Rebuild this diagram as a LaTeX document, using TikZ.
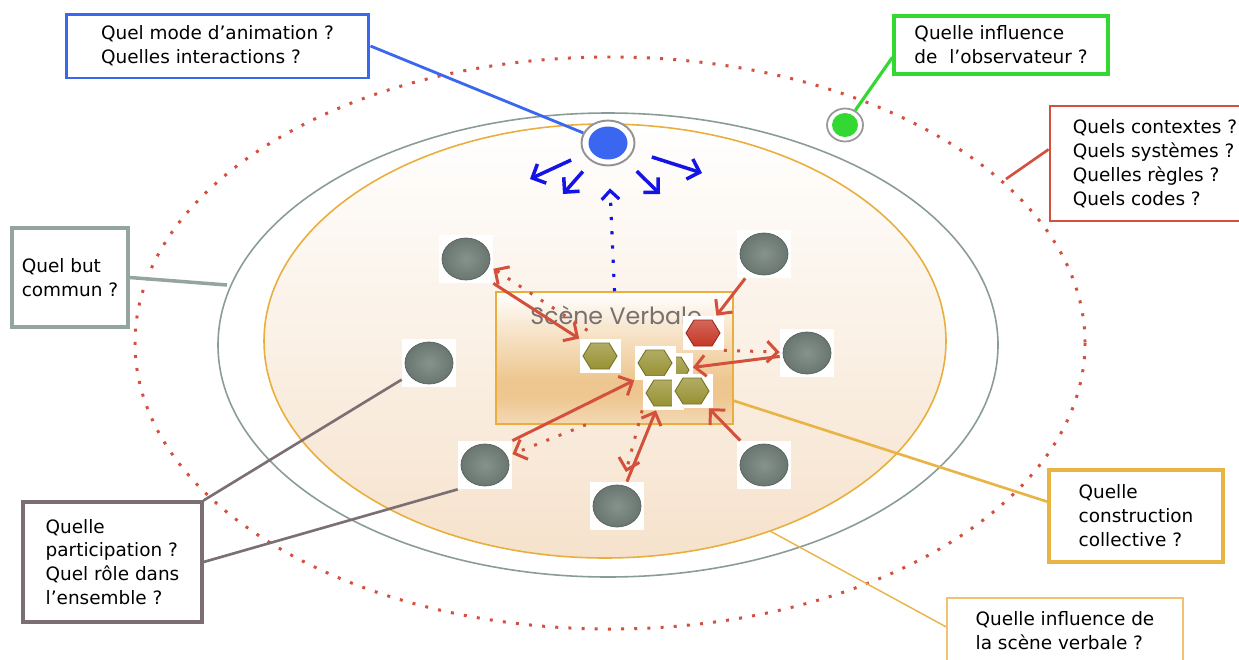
\documentclass[tikz,border=0pt]{standalone}
\usepackage{fontspec}
\setmainfont{DejaVu Sans}
\newfontfamily\scenefont{Poppins}
\usetikzlibrary{arrows.meta,calc,shapes.geometric}

\definecolor{dotred}{HTML}{D4503E}
\definecolor{arrred}{HTML}{D2503C}
\definecolor{ringgray}{HTML}{8A9C96}
\definecolor{ellorange}{HTML}{E9AE3C}
\definecolor{animblue}{HTML}{3A66F0}
\definecolor{arrblue}{HTML}{1414E6}
\definecolor{obsgreen}{HTML}{33D833}
\definecolor{butgray}{HTML}{94A59F}
\definecolor{rolegray}{HTML}{7B6F74}
\definecolor{constrorange}{HTML}{E9B446}
\definecolor{verborange}{HTML}{F0C272}
\definecolor{pcin}{HTML}{86928C}
\definecolor{pcout}{HTML}{66726C}
\definecolor{hexolive}{HTML}{948E2C}
\definecolor{hexred}{HTML}{C4301E}
\definecolor{scenegray}{HTML}{77706F}
\definecolor{scbot}{HTML}{F4D9B6}
\definecolor{scmid}{HTML}{EEC790}
\definecolor{scup}{HTML}{F8E7D0}

% fill of the verbal scene: white on top, strongest low down
\pgfdeclareverticalshading{scenefill}{100bp}{color(0bp)=(scbot); color(25bp)=(scbot);
  color(35bp)=(scmid); color(42bp)=(scmid); color(62bp)=(scup); color(75bp)=(white); color(100bp)=(white)}

\begin{document}
\begin{tikzpicture}[x=0.02cm,y=-0.02cm,
  qbox/.style={draw, fill=white, line width=1.6pt, align=left, inner sep=0pt,
    font=\fontsize{10.5}{13.6}\selectfont},
  person/.style={rectangle, fill=white, minimum width=1.08cm, minimum height=0.96cm, inner sep=0pt,
    path picture={\shadedraw[inner color=pcin, outer color=pcout, draw=pcout!85!black, line width=0.4pt]
      (path picture bounding box.center) ellipse [x radius=24, y radius=21];}},
  hexnode/.style={rectangle, fill=white, minimum width=0.82cm, minimum height=0.68cm, inner sep=0pt,
    path picture={\shadedraw[top color=#1!70!white, bottom color=#1, draw=#1!80!black, line width=0.5pt,
      shift={(path picture bounding box.center)}]
      (-17,0) -- (-9,-13) -- (9,-13) -- (17,0) -- (9,13) -- (-9,13) -- cycle;}},
  redarrow/.style={draw=arrred, line width=1.7pt, -{Straight Barb[length=6pt,width=12pt]}},
  reddots/.style={redarrow, dash pattern=on 1.7pt off 5.8pt},
  bluearrow/.style={draw=arrblue, line width=2pt, -{Straight Barb[length=6pt,width=12pt]}},
]

\useasboundingbox (0,0) rectangle (1239,659);
\clip (0,0) rectangle (1239,659);
\fill[white] (0,0) rectangle (1239,659);

% the three rings
\draw[dotred, line width=1.7pt, dash pattern=on 1.7pt off 5.8pt] (610,343) ellipse [x radius=475, y radius=286];
\draw[ringgray, line width=0.9pt] (608,345) ellipse [x radius=390, y radius=232];
\shadedraw[top color=white, bottom color={rgb,255:red,246;green,226;blue,204}, draw=ellorange, line width=0.9pt]
  (605,341) ellipse [x radius=341, y radius=217];

% verbal scene
\node[draw=ellorange, line width=0.9pt, shading=scenefill, minimum width=4.74cm, minimum height=2.64cm, inner sep=0pt]
  (scene) at (614.5,358) {};
\node[font=\scenefont\fontsize{13.5}{15}\selectfont, text=scenegray, inner sep=0pt] (scenelbl) at (616,315) {Scène Verbale};

% animator and observer
\node[ellipse, fill=white, draw=gray!85, line width=1.1pt, minimum width=1.06cm, minimum height=0.9cm, inner sep=0pt,
  path picture={\fill[animblue] (path picture bounding box.center) ellipse [x radius=19.5, y radius=16.5];}]
  (anim) at (608,143) {};
\node[ellipse, fill=white, draw=gray!80, line width=1pt, minimum width=0.72cm, minimum height=0.66cm, inner sep=0pt,
  path picture={\fill[obsgreen] (path picture bounding box.center) ellipse [x radius=13, y radius=12];}]
  (obs) at (845,125) {};

\coordinate (b1) at (530,179);
\coordinate (b2) at (563,194);
\coordinate (b3) at (660,194);
\coordinate (b4) at (702,173);
\draw[bluearrow, shorten <=0.28cm] (anim) -- (b1);
\draw[bluearrow, shorten <=0.26cm] (anim) -- (b2);
\draw[bluearrow, shorten <=0.3cm] (anim) -- (b3);
\draw[bluearrow, shorten <=0.38cm] (anim) -- (b4);
\draw[draw=arrblue, line width=1.8pt, dash pattern=on 1.8pt off 6.3pt, shorten >=0.44cm,
  -{Straight Barb[length=5pt,width=10pt]}] (scene.north) -- (anim);

% participants
\foreach \name/\px/\py in {p1/466/259, p2/764/254, p3/807/353, p4/429/363, p5/485/465, p6/617/506, p7/764/465}
  \node[person] (\name) at (\px,\py) {};

% contributions
\node[hexnode=hexolive] (h3) at (672,370) {};
\node[hexnode=hexolive] (h2) at (655,363) {};
\node[hexnode=hexolive] (h4) at (663,393) {};
\node[hexnode=hexolive] (h5) at (692,391) {};
\node[hexnode=hexolive] (h1) at (600,356) {};
\node[hexnode=hexred] (hr) at (703,333) {};

\draw[redarrow] (p1.south east) -- (h1.north west);
\draw[redarrow] (p2) -- (hr);
\draw[redarrow] (p3) -- (h3);
\draw[redarrow] (p5.north east) -- (h2.south west);
\draw[redarrow] (p6) -- (h4);
\draw[redarrow] (p7) -- (h5);
\draw[reddots, shorten <=0.3cm] (h1.north) -- ($(p1.south east)!0.3!(p1.north east)$);
\draw[reddots] (hr.south east) -- (p3);
\draw[reddots] ($(scene.south west)!0.38!(scene.south east)$) -- (p5);
\draw[reddots, shorten >=0.2cm] (h4.south west) -- (p6);

% questions
\node[qbox, draw=animblue, line width=1.7pt, minimum width=6.06cm, minimum height=1.28cm]
  (modebox) at (217.5,46) {Quel mode d’animation ?\\Quelles interactions ?};
\node[qbox, draw=obsgreen, line width=1.8pt, minimum width=4.28cm, minimum height=1.16cm]
  (obsbox) at (1001,45) {Quelle influence\\de\ \ l’observateur ?};
\node[qbox, draw=dotred, minimum width=4.2cm, minimum height=2.3cm]
  (ctxbox) at (1155,163.5) {Quels contextes ?\\Quels systèmes ?\\Quelles règles ?\\Quels codes ?};
\node[qbox, draw=butgray, line width=2.2pt, minimum width=2.32cm, minimum height=1.98cm]
  (butbox) at (70,277.5) {Quel but\\commun ?};
\node[qbox, draw=rolegray, line width=1.8pt, minimum width=3.58cm, minimum height=2.4cm]
  (rolebox) at (112.5,562) {Quelle\\participation ?\\Quel rôle dans\\l’ensemble ?};
\node[qbox, draw=constrorange, line width=1.8pt, minimum width=3.48cm, minimum height=1.84cm]
  (constrbox) at (1136,516) {Quelle\\construction\\collective ?};
\node[qbox, draw=verborange, line width=0.9pt, minimum width=4.72cm, minimum height=1.32cm]
  (verbbox) at (1065,631) {Quelle influence de\\la scène verbale ?};

\coordinate (ctxend) at (1006,179);
\coordinate (butend) at (227,285);
\coordinate (verbend) at (770,531);
\draw[animblue, line width=1.6pt] (modebox.east) -- (anim);
\draw[obsgreen, line width=1.8pt] ($(obsbox.south west)!0.3!(obsbox.north west)$) -- (obs);
\draw[dotred, line width=1.5pt] ($(ctxbox.south west)!0.62!(ctxbox.north west)$) -- (ctxend);
\draw[butgray, line width=2pt] (butbox.east) -- (butend);
\draw[rolegray, line width=1.5pt] (rolebox.north east) -- (p4);
\draw[rolegray, line width=1.5pt] (rolebox.east) -- (p5.south west);
\draw[constrorange, line width=1.5pt] ($(constrbox.south west)!0.65!(constrbox.north west)$)
  -- ($(scene.south east)!0.18!(scene.north east)$);
\draw[constrorange, line width=0.8pt] ($(verbbox.south west)!0.56!(verbbox.north west)$) -- (verbend);

\end{tikzpicture}
\end{document}
